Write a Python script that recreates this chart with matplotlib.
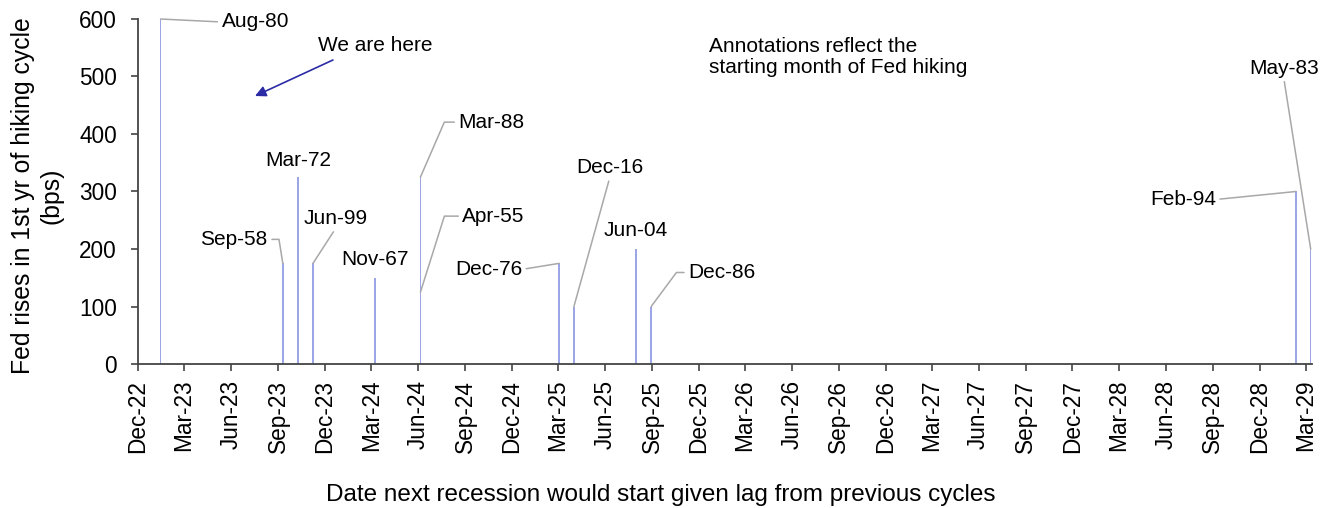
import matplotlib
matplotlib.use("Agg")
import matplotlib.pyplot as plt
import matplotlib.dates as mdates
import pandas as pd

plt.rcParams['font.family'] = ['Liberation Sans', 'DejaVu Sans']

# ---- data ----
labels = ['Aug-80', 'Sep-58', 'Mar-72', 'Jun-99', 'Nov-67', 'Mar-88', 'Apr-55',
          'Dec-76', 'Dec-16', 'Jun-04', 'Dec-86', 'Feb-94', 'May-83']
dates = ['2023-01-14', '2023-09-10', '2023-10-10', '2023-11-08', '2024-03-08',
         '2024-06-05', '2024-06-05', '2025-03-03', '2025-04-01', '2025-07-31',
         '2025-08-30', '2029-02-10', '2029-03-11']
values = [600, 175, 325, 175, 150, 325, 125, 175, 100, 200, 100, 300, 200]

x_start = '2022-12-01'
x_end = '2029-03-13'
y_ticks = [0, 100, 200, 300, 400, 500, 600]
xlabel = 'Date next recession would start given lag from previous cycles'
ylabel = 'Fed rises in 1st yr of hiking cycle\n(bps)'
note_text = 'Annotations reflect the\nstarting month of Fed hiking'
arrow_text = 'We are here'

# label layout: offset (pixels) from bar top, ha, connector
# connector: None | ('straight', relpos) | ('angle', angleB)
layout = {
    'Aug-80': ((61, -3), 'left', ('straight', (0, 0.5))),
    'Sep-58': ((-15, 24), 'right', ('angle', 99)),
    'Mar-72': ((0, 17), 'center', None),
    'Jun-99': ((23, 45), 'center', ('straight', (0.5, 0))),
    'Nov-67': ((0, 18), 'center', None),
    'Mar-88': ((38, 55), 'left', ('angle', 66.5)),
    'Apr-55': ((42, 76), 'left', ('angle', 72.5)),
    'Dec-76': ((-37, -6), 'right', ('straight', (1, 0.5))),
    'Dec-16': ((36, 139), 'center', ('straight', (0.5, 0))),
    'Jun-04': ((0, 18), 'center', None),
    'Dec-86': ((37, 34), 'left', ('angle', 53.4)),
    'Feb-94': ((-80, -8), 'right', ('straight', (1, 0.5))),
    'May-83': ((-27, 181), 'center', ('straight', (0.5, 0))),
}

dts = pd.to_datetime(dates).to_pydatetime()

fig = plt.figure(figsize=(13.35, 5.08), dpi=100)
ax = fig.add_axes([138 / 1335, 144 / 508, (1311.7 - 138) / 1335, 345 / 508])

bar_color = '#9ca6e6'
ax.bar(dts, values, width=3, color=bar_color, linewidth=0, align='center')

ax.set_xlim(pd.Timestamp(x_start), pd.Timestamp(x_end))
ax.set_ylim(0, 600)
ax.set_yticks(y_ticks)

ax.xaxis.set_major_locator(mdates.MonthLocator(bymonth=[3, 6, 9, 12], bymonthday=1))
ax.xaxis.set_major_formatter(mdates.DateFormatter('%b-%y'))
for lab in ax.get_xticklabels():
    lab.set_rotation(90)

spine_color = '#444444'
for s in ['top', 'right']:
    ax.spines[s].set_visible(False)
for s in ['left', 'bottom']:
    ax.spines[s].set_color(spine_color)
    ax.spines[s].set_linewidth(1.3)
ax.tick_params(axis='both', direction='out', length=4.8, width=1.2,
               color=spine_color, labelsize=16.3, labelcolor='black')
ax.tick_params(axis='x', pad=6.5)
ax.tick_params(axis='y', pad=10.5)

ax.set_xlabel(xlabel, fontsize=17.5, labelpad=22)
ax.xaxis.set_label_coords(0.4456, -0.348)
ax.set_ylabel(ylabel, fontsize=17.8, labelpad=11, linespacing=1.25)
ax.yaxis.label.set_y(0.487)

# bar labels
for lab, d, v in zip(labels, dts, values):
    (ox, oy), ha, conn = layout[lab]
    kw = dict(xy=(d, v), xycoords='data', xytext=(ox, oy),
              textcoords='offset pixels', ha=ha, va='center', fontsize=15,
              color='black')
    if conn is not None:
        if conn[0] == 'straight':
            ap = dict(arrowstyle='-', color='#a8a8a8', lw=1.1,
                      shrinkA=1, shrinkB=0, relpos=conn[1])
        else:
            ap = dict(arrowstyle='-', color='#a8a8a8', lw=1.1,
                      shrinkA=1, shrinkB=0,
                      relpos=(0, 0.5) if ha == 'left' else (1, 0.5),
                      connectionstyle=f'angle,angleA=0,angleB={conn[1]},rad=0')
        kw['arrowprops'] = ap
    ax.annotate(lab, **kw)

# "We are here" arrow
ax.text(0.2019, 0.9246, arrow_text, transform=ax.transAxes, ha='center',
        va='center', fontsize=15)
ax.annotate('', xy=(0.0997, 0.7768), xycoords='axes fraction',
            xytext=(0.1661, 0.8812), textcoords='axes fraction',
            arrowprops=dict(arrowstyle='-|>', color='#2b2ba6', lw=1.2,
                            mutation_scale=16, shrinkA=0, shrinkB=0))

# note
ax.text(0.4865, 0.947, note_text, transform=ax.transAxes, ha='left',
        va='top', fontsize=15, linespacing=1.12)

fig.savefig('out.png', dpi=100)
